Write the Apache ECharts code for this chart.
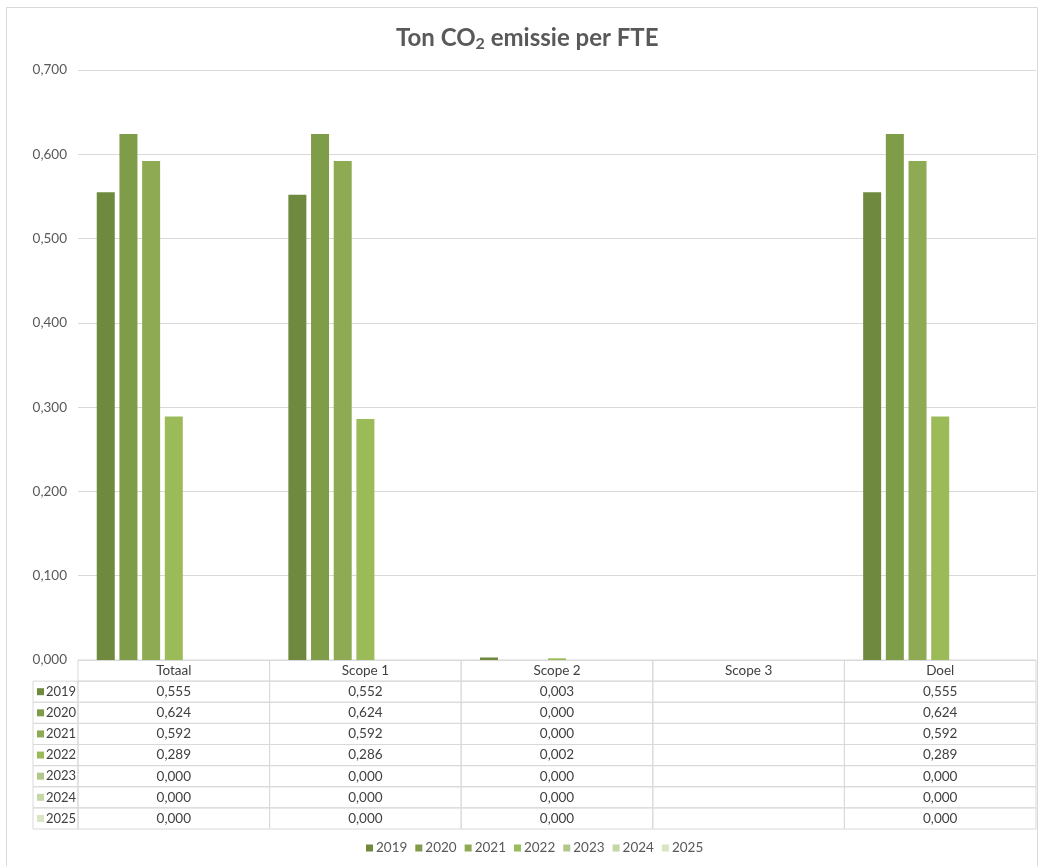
<!DOCTYPE html>
<html>
<head>
<meta charset="utf-8">
<script src="https://cdn.jsdelivr.net/npm/echarts@6/dist/echarts.min.js"></script>
<style>
  html, body { margin: 0; padding: 0; background: #fff; }
  #mychart { width: 1041px; height: 866px; }
</style>
</head>
<body>
<div id="mychart"></div>
<script>
// data
var categories = ['Totaal', 'Scope 1', 'Scope 2', 'Scope 3', 'Doel'];
var years = ['2019', '2020', '2021', '2022', '2023', '2024', '2025'];
// values per year, in category order (null = empty cell)
var v2019 = [0.555, 0.552, 0.003, null, 0.555];
var v2020 = [0.624, 0.624, 0.000, null, 0.624];
var v2021 = [0.592, 0.592, 0.000, null, 0.592];
var v2022 = [0.289, 0.286, 0.002, null, 0.289];
var v2023 = [0.000, 0.000, 0.000, null, 0.000];
var v2024 = [0.000, 0.000, 0.000, null, 0.000];
var v2025 = [0.000, 0.000, 0.000, null, 0.000];
var yTicks = [0, 0.1, 0.2, 0.3, 0.4, 0.5, 0.6, 0.7];

var values = [v2019, v2020, v2021, v2022, v2023, v2024, v2025];
var colors = ['#6f8a3e', '#7f9c49', '#8eaa52', '#9bbb59', '#b0c98a', '#c4d7a4', '#d8e4c2'];
var font = 'Lato, "Open Sans", sans-serif';
var lineCol = '#d9d9d9';

function fmt(v) {
  return v.toFixed(3).replace('.', ',');
}

var myChart = echarts.init(document.getElementById('mychart'), null, { renderer: 'canvas' });

var series = [];
for (var i = 0; i < years.length; i++) {
  series.push({
    name: years[i],
    type: 'bar',
    xAxisIndex: 0,
    yAxisIndex: 0,
    barWidth: 18,
    barGap: '26%',
    itemStyle: { color: colors[i] },
    data: values[i]
  });
}

// table cells: header row + one row per year
var cellData = [];
for (var c = 0; c < categories.length; c++) {
  cellData.push([c, 0, categories[c]]);
  for (var r = 0; r < years.length; r++) {
    var v = values[r][c];
    cellData.push([c, r + 1, v == null ? '' : fmt(v)]);
  }
}
var yearData = [];
for (var r = 0; r < years.length; r++) {
  yearData.push([0, r + 1, years[r], r]);
}

series.push({
  name: 'table',
  type: 'custom',
  xAxisIndex: 1,
  yAxisIndex: 1,
  silent: true,
  renderItem: function (params, api) {
    var p = api.coord([api.value(0), api.value(1)]);
    var s = api.size([1, 1]);
    return {
      type: 'group',
      children: [{
        type: 'rect',
        shape: { x: p[0] - s[0] / 2, y: p[1] - s[1] / 2, width: s[0], height: s[1] },
        style: { fill: 'none', stroke: lineCol, lineWidth: 1 }
      }, {
        type: 'text',
        x: p[0], y: p[1],
        style: {
          text: cellData[params.dataIndex][2],
          align: 'center', verticalAlign: 'middle',
          font: '13.5px ' + font, fill: '#404040'
        }
      }]
    };
  },
  data: cellData
});

// year column on the left of the table
series.push({
  name: 'years',
  type: 'custom',
  xAxisIndex: 1,
  yAxisIndex: 1,
  silent: true,
  renderItem: function (params, api) {
    var p = api.coord([0, api.value(1)]);
    var s = api.size([1, 1]);
    var x0 = p[0] - s[0] / 2 - 45;
    var idx = yearData[params.dataIndex][3];
    return {
      type: 'group',
      children: [{
        type: 'rect',
        shape: { x: x0, y: p[1] - s[1] / 2, width: 45, height: s[1] },
        style: { fill: 'none', stroke: lineCol, lineWidth: 1 }
      }, {
        type: 'rect',
        shape: { x: x0 + 4, y: p[1] - 3.5, width: 7, height: 7 },
        style: { fill: colors[idx] }
      }, {
        type: 'text',
        x: x0 + 13, y: p[1],
        style: {
          text: yearData[params.dataIndex][2],
          align: 'left', verticalAlign: 'middle',
          font: '13px ' + font, fill: '#404040'
        }
      }]
    };
  },
  data: yearData
});

var option = {
  backgroundColor: '#fff',
  animation: false,
  title: {
    text: 'Ton CO{sub|2} emissie per FTE',
    left: 396,
    top: 25,
    padding: 0,
    textStyle: {
      fontFamily: font,
      fontSize: 24,
      fontWeight: 'bold',
      color: '#595959',
      rich: {
        sub: { fontFamily: font, fontSize: 16, fontWeight: 'bold', color: '#595959', padding: [11, 0, 0, 0] }
      }
    }
  },
  legend: {
    data: years,
    left: 366,
    top: 841,
    padding: 0,
    icon: 'rect',
    itemWidth: 7,
    itemHeight: 7,
    itemGap: 8,
    textStyle: { fontFamily: font, fontSize: 13.5, color: '#595959', padding: [0, 0, 0, -2] }
  },
  graphic: [{
    type: 'rect',
    shape: { x: 6.5, y: 7.5, width: 1031, height: 870 },
    style: { fill: 'none', stroke: '#d9d9d9', lineWidth: 1 },
    silent: true
  }],
  grid: [
    { left: 78, right: 5, top: 70, bottom: 206 },
    { left: 78, right: 5, top: 660, height: 169 }
  ],
  xAxis: [{
    gridIndex: 0,
    type: 'category',
    data: categories,
    axisLine: { show: false },
    axisTick: { show: false },
    axisLabel: { show: false }
  }, {
    gridIndex: 1,
    type: 'category',
    data: categories,
    show: false
  }],
  yAxis: [{
    gridIndex: 0,
    type: 'value',
    min: yTicks[0],
    max: yTicks[yTicks.length - 1],
    interval: 0.1,
    axisLine: { show: false },
    axisTick: { show: false },
    axisLabel: {
      fontFamily: font, fontSize: 13.5, color: '#595959', margin: 11,
      formatter: function (v) { return fmt(v); }
    },
    splitLine: { lineStyle: { color: lineCol, width: 1 } }
  }, {
    gridIndex: 1,
    type: 'category',
    inverse: true,
    data: ['hdr'].concat(years),
    show: false
  }],
  series: series
};

myChart.setOption(option);
</script>
</body>
</html>
